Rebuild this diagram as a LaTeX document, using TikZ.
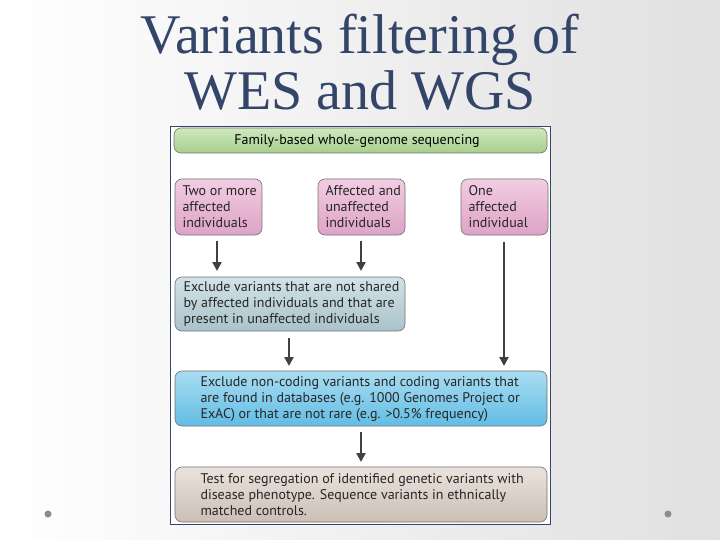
\documentclass[tikz,border=0pt]{standalone}
\usepackage{fontspec}
\usetikzlibrary{arrows.meta}
\setmainfont{PT Sans}
\newfontfamily\titlefont{Liberation Serif}
\definecolor{tcol}{HTML}{34456A}
\definecolor{gtop}{HTML}{CFE8BE}
\definecolor{gbot}{HTML}{A6CF8C}
\definecolor{ptop}{HTML}{F2CDE2}
\definecolor{pbot}{HTML}{DDA3C6}
\definecolor{stop}{HTML}{D3E2E6}
\definecolor{sbot}{HTML}{A9C3CA}
\definecolor{btop}{HTML}{A9DDF2}
\definecolor{bbot}{HTML}{62BCE4}
\definecolor{ttop}{HTML}{EAE3DD}
\definecolor{tbot}{HTML}{CBBFB5}
\begin{document}
\begin{tikzpicture}[x=1pt,y=-1pt,
  box/.style={draw=black!55,line width=0.6pt,rounded corners=7pt},
  lbl/.style={font=\fontsize{14}{16}\selectfont,align=left,anchor=west,text=black!85},
  arr/.style={draw=black!75,line width=2.4pt,-{Triangle[length=9pt,width=9pt]}}]
\shade[left color=white,right color=black!12] (0,0) rectangle (720,540);
\useasboundingbox (0,0) rectangle (720,540);
\node[font=\titlefont\fontsize{56}{56}\selectfont,text=tcol,align=center] (title) at (360,62) {Variants filtering of\\WES and WGS};
\draw[fill=white,draw=tcol,line width=0.8pt] (170,126) rectangle (550,524);
\draw[box,top color=gtop,bottom color=gbot] (174,128) rectangle (547,153);
\node (g) at (357,141) {\fontsize{14}{16}\selectfont Family-based whole-genome sequencing};
\foreach \n/\x/\t in {p1/175/Two or more\\affected\\individuals, p2/318/Affected and\\unaffected\\individuals, p3/461/One\\affected\\individual}{
  \draw[box,top color=ptop,bottom color=pbot] (\x,179) rectangle ++(87,56);
  \node[lbl] (\n) at (\x+4,207) {\t};
}
\draw[box,top color=stop,bottom color=sbot] (175,277) rectangle (405,331);
\node[lbl] (b1) at (180,304) {Exclude variants that are not shared\\by affected individuals and that are\\present in unaffected individuals};
\draw[box,top color=btop,bottom color=bbot] (175,371) rectangle (547,426);
\node[lbl] (b2) at (197,399) {Exclude non-coding variants and coding variants that\\are found in databases (e.g. 1000 Genomes Project or\\ExAC) or that are not rare (e.g. >0.5\% frequency)};
\draw[box,top color=ttop,bottom color=tbot] (175,467) rectangle (547,522);
\node[lbl] (b3) at (197,495) {Test for segregation of identified genetic variants with\\disease phenotype. Sequence variants in ethnically\\matched controls.};
\coordinate (a1s) at (217,241); \coordinate (a1e) at (217,271);
\coordinate (a2s) at (361,241); \coordinate (a2e) at (361,271);
\coordinate (a3s) at (504,242); \coordinate (a3e) at (504,366);
\coordinate (a4s) at (289,338); \coordinate (a4e) at (289,366);
\coordinate (a5s) at (361,432); \coordinate (a5e) at (361,462);
\foreach \i in {1,...,5} \draw[arr] (a\i s) -- (a\i e);
\fill[black!45] (48,514) circle (3.5);
\fill[black!45] (668,514) circle (3.5);
\end{tikzpicture}
\end{document}
